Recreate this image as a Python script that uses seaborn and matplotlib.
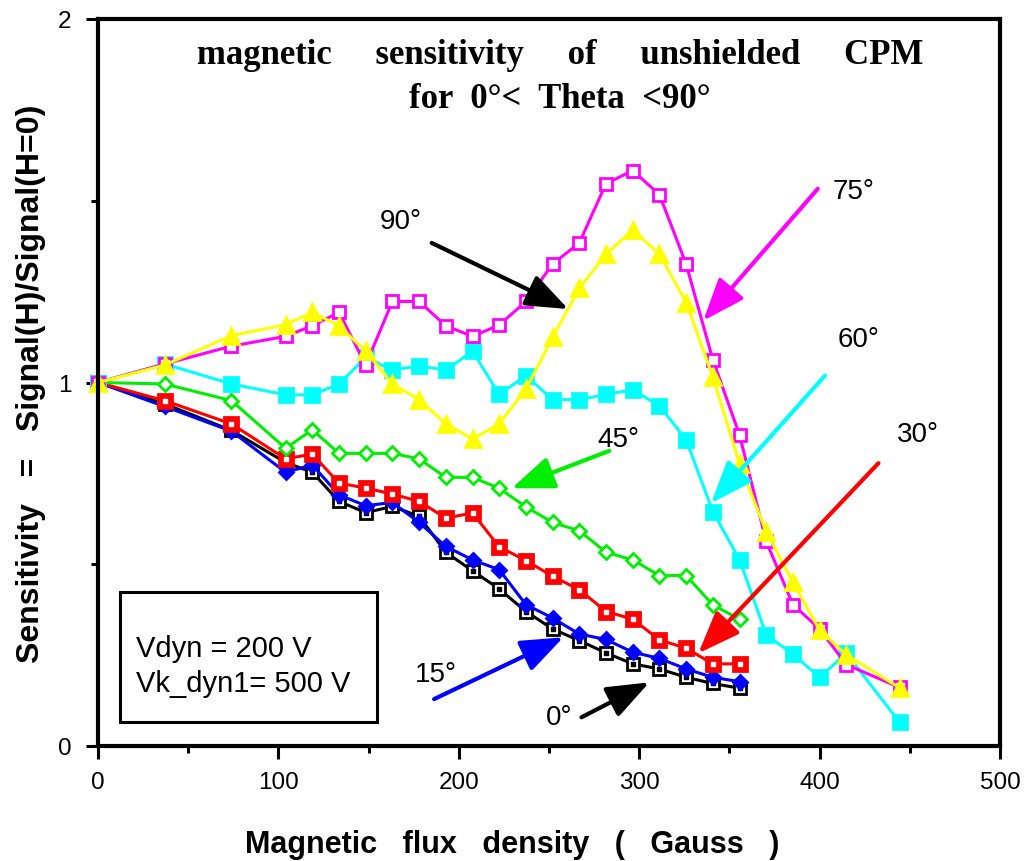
import matplotlib
matplotlib.use("Agg")
import matplotlib.pyplot as plt
import seaborn as sns
import pandas as pd
from matplotlib.patches import Rectangle
from matplotlib.ticker import MultipleLocator

# magnetic flux density (Gauss) at which the points were taken
gauss_short = [0, 37, 74, 104, 118.8, 133.6, 148.4, 163.2, 178, 192.8, 207.6,
               222.4, 237.2, 252, 266.8, 281.6, 296.4, 311.2, 326, 340.8, 355.6]
gauss_long = gauss_short + [370.4, 385.2, 400, 414.8, 444.4]

# sensitivity = Signal(H)/Signal(H=0), one list per theta
sens_0 = [1.0, 0.941, 0.868, 0.78, 0.753, 0.673, 0.642, 0.659, 0.632, 0.533, 0.482,
          0.432, 0.370, 0.322, 0.290, 0.256, 0.226, 0.212, 0.189, 0.172, 0.159]
sens_15 = [1.0, 0.934, 0.866, 0.753, 0.773, 0.691, 0.661, 0.670, 0.615, 0.549, 0.512,
           0.485, 0.389, 0.352, 0.308, 0.293, 0.258, 0.241, 0.212, 0.189, 0.177]
sens_30 = [1.0, 0.950, 0.886, 0.790, 0.803, 0.723, 0.710, 0.693, 0.673, 0.627, 0.641,
           0.548, 0.510, 0.467, 0.430, 0.370, 0.349, 0.292, 0.269, 0.226, 0.226]
sens_45 = [1.0, 0.996, 0.950, 0.819, 0.870, 0.805, 0.805, 0.805, 0.790, 0.739, 0.739,
           0.709, 0.658, 0.615, 0.592, 0.533, 0.512, 0.469, 0.469, 0.388, 0.349]
sens_60 = [1.0, 1.051, 0.996, 0.966, 0.966, 0.996, 1.069, 1.034, 1.046, 1.034, 1.086,
           0.967, 1.019, 0.953, 0.953, 0.967, 0.980, 0.936, 0.843, 0.645, 0.513,
           0.306, 0.253, 0.189, 0.255, 0.065]
sens_75 = [1.0, 1.051, 1.100, 1.127, 1.156, 1.193, 1.048, 1.223, 1.223, 1.156, 1.127,
           1.158, 1.223, 1.326, 1.384, 1.547, 1.583, 1.517, 1.326, 1.063, 0.856,
           0.563, 0.389, 0.322, 0.224, 0.161]
sens_90 = [1.0, 1.048, 1.129, 1.159, 1.193, 1.156, 1.086, 0.996, 0.953, 0.886, 0.845,
           0.886, 0.982, 1.124, 1.259, 1.353, 1.420, 1.353, 1.220, 1.016, 0.776,
           0.590, 0.450, 0.319, 0.251, 0.160]

angles = ["0°", "15°", "30°", "45°", "60°", "75°", "90°"]
values = [sens_0, sens_15, sens_30, sens_45, sens_60, sens_75, sens_90]

rows = []
for ang, ys in zip(angles, values):
    xs = gauss_short if len(ys) == len(gauss_short) else gauss_long
    for x, y in zip(xs, ys):
        rows.append({"Gauss": x, "Sensitivity": y, "Theta": ang})
df = pd.DataFrame(rows)

styles = {
    "0°":  dict(color="black", marker="s", mfc="white", mec="black", ms=9),
    "15°": dict(color="#0000FF", marker="D", mfc="#0000FF", mec="#0000FF", ms=7.5),
    "30°": dict(color="#FF0000", marker="s", mfc="#FF0000", mec="#FF0000", ms=10),
    "45°": dict(color="#00EE00", marker="D", mfc="white", mec="#00EE00", ms=7.5),
    "60°": dict(color="#00FFFF", marker="s", mfc="#00FFFF", mec="#00FFFF", ms=10),
    "75°": dict(color="#FF00FF", marker="s", mfc="white", mec="#FF00FF", ms=9),
    "90°": dict(color="#FFFF00", marker="^", mfc="#FFFF00", mec="#FFFF00", ms=11),
}

sns.set_theme(style="white")
plt.rcParams['font.family'] = ['Liberation Sans', 'DejaVu Sans']
plt.rcParams['text.color'] = 'black'
plt.rcParams['axes.labelcolor'] = 'black'

fig, ax = plt.subplots(figsize=(10.26, 8.62), dpi=100)
fig.subplots_adjust(left=98/1026, right=1000/1026, bottom=1-747/862, top=1-20/862)

for ang in angles:
    st = styles[ang]
    sub = df[df["Theta"] == ang]
    sns.lineplot(data=sub, x="Gauss", y="Sensitivity", ax=ax, color=st["color"],
                 marker=st["marker"], markersize=st["ms"], markerfacecolor=st["mfc"],
                 markeredgecolor=st["mec"], markeredgewidth=2, linewidth=2.2,
                 clip_on=False, legend=False)
    # small centre dot inside the square markers of 0 and 30 degrees
    if ang in ("0°", "30°"):
        dot = "black" if ang == "0°" else "white"
        ax.plot(sub["Gauss"], sub["Sensitivity"], linestyle="none", marker="s",
                markersize=2.5, color=dot, clip_on=False)

ax.set_xlim(0, 500)
ax.set_ylim(0, 2)
ax.xaxis.set_major_locator(MultipleLocator(100))
ax.xaxis.set_minor_locator(MultipleLocator(50))
ax.yaxis.set_major_locator(MultipleLocator(1))
ax.yaxis.set_minor_locator(MultipleLocator(0.5))
ax.tick_params(which="major", direction="out", length=9, width=2.2, colors="black",
               labelsize=17.5, bottom=True, left=True)
ax.tick_params(which="minor", direction="out", length=5, width=2.2, colors="black",
               bottom=True, left=True)
ax.tick_params(axis="x", pad=9)
ax.tick_params(axis="y", pad=10)
for sp in ax.spines.values():
    sp.set_linewidth(3)
    sp.set_color("black")

ax.set_xlabel("Magnetic   flux   density   (   Gauss   )", fontsize=22, fontweight="bold")
ax.set_ylabel("Sensitivity   =   Signal(H)/Signal(H=0)", fontsize=23, fontweight="bold")
ax.xaxis.set_label_coords(0.459, -0.114)
ax.yaxis.set_label_coords(-0.058, 0.50)

ax.text(0.512, 0.951, "magnetic     sensitivity     of     unshielded     CPM",
        transform=ax.transAxes, ha="center", va="center", fontsize=25,
        fontweight="bold", family=["Liberation Serif", "DejaVu Serif"])
ax.text(0.512, 0.891, "for  0°<  Theta  <90°",
        transform=ax.transAxes, ha="center", va="center", fontsize=25,
        fontweight="bold", family=["Liberation Serif", "DejaVu Serif"])

# angle labels with their arrows
notes = [
    ("90°", (156, 1.444), (185, 1.384), (260.7, 1.202), "black"),
    ("75°", (407, 1.527), (399, 1.533), (335.5, 1.170), "#FF00FF"),
    ("60°", (410, 1.120), (403, 1.019), (339.8, 0.668), "#00FFFF"),
    ("45°", (277, 0.845), (283.4, 0.812), (229.3, 0.709), "#00EE00"),
    ("30°", (443, 0.858), (432.6, 0.778), (332.8, 0.255), "#FF0000"),
    ("15°", (175.7, 0.198), (186.3, 0.129), (258, 0.299), "#0000FF"),
    ("0°", (248.3, 0.080), (268, 0.079), (305.6, 0.175), "black"),
]
for label, tpos, start, tip, col in notes:
    ax.text(tpos[0], tpos[1], label, fontsize=20, ha="left", va="center", color="black")
    ax.annotate("", xy=tip, xytext=start,
                arrowprops=dict(arrowstyle="-|>,head_length=1.3,head_width=0.5",
                                color=col, lw=3, shrinkA=0, shrinkB=0,
                                mutation_scale=20))

ax.add_patch(Rectangle((12.2, 0.066), 142.5, 0.358, fill=False, lw=2.2,
                       edgecolor="black", zorder=5))
ax.text(21, 0.248, "Vdyn = 200 V", fontsize=21, ha="left", va="baseline")
ax.text(21, 0.151, "Vk_dyn1= 500 V", fontsize=21, ha="left", va="baseline")

fig.savefig("out.png", dpi=100)
